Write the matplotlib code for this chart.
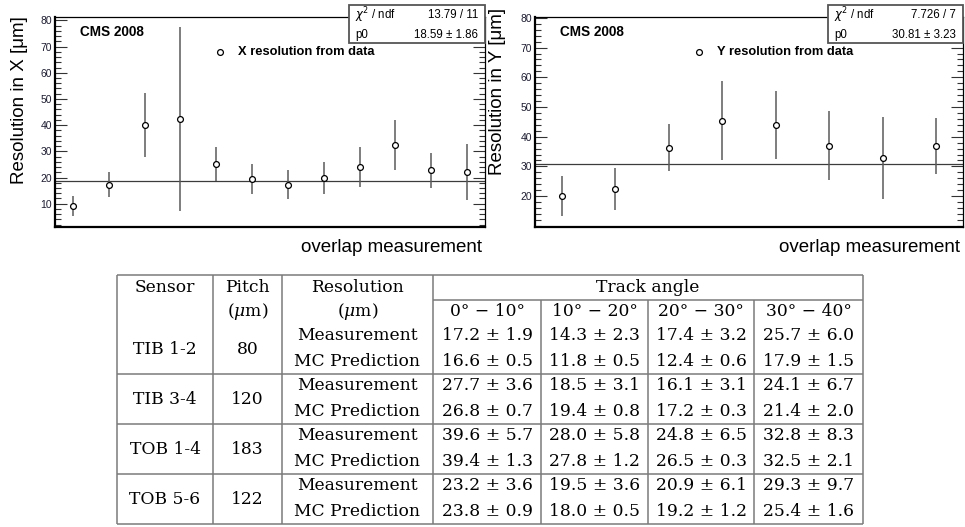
import matplotlib
matplotlib.use('Agg')
import matplotlib.pyplot as plt
import numpy as np
from matplotlib.patches import Rectangle
from matplotlib.ticker import MultipleLocator

plt.rcParams['font.family'] = ['Liberation Sans', 'DejaVu Sans']

# X resolution per overlap measurement (12 points)
x_res = [9.1, 17.3, 40.0, 42.3, 25.2, 19.3, 17.3, 19.8, 23.9, 32.4, 22.7, 22.1]
x_err = [3.8, 4.8, 12.1, 35.1, 6.5, 5.7, 5.6, 6.0, 7.7, 9.7, 6.6, 10.7]
x_fit = 18.59
x_stats = ['13.79 / 11', '18.59 \u00b1 1.86']

# Y resolution (8 points)
y_res = [20.1, 22.3, 36.3, 45.4, 44.0, 37.0, 32.7, 37.0]
y_err = [6.8, 7.1, 8.0, 13.2, 11.5, 11.7, 13.8, 9.4]
y_fit = 30.81
y_stats = ['7.726 / 7', '30.81 \u00b1 3.23']

# table
sensors = ['TIB 1-2', 'TIB 3-4', 'TOB 1-4', 'TOB 5-6']
pitch = ['80', '120', '183', '122']
angles = ['0\u00b0 \u2212 10\u00b0', '10\u00b0 \u2212 20\u00b0', '20\u00b0 \u2212 30\u00b0', '30\u00b0 \u2212 40\u00b0']
meas_val = [[17.2, 14.3, 17.4, 25.7], [27.7, 18.5, 16.1, 24.1], [39.6, 28.0, 24.8, 32.8], [23.2, 19.5, 20.9, 29.3]]
meas_err = [[1.9, 2.3, 3.2, 6.0], [3.6, 3.1, 3.1, 6.7], [5.7, 5.8, 6.5, 8.3], [3.6, 3.6, 6.1, 9.7]]
mc_val = [[16.6, 11.8, 12.4, 17.9], [26.8, 19.4, 17.2, 21.4], [39.4, 27.8, 26.5, 32.5], [23.8, 18.0, 19.2, 25.4]]
mc_err = [[0.5, 0.5, 0.6, 1.5], [0.7, 0.8, 0.3, 2.0], [1.3, 1.2, 0.3, 2.1], [0.9, 0.5, 1.2, 1.6]]

W, H = 965, 527
fig = plt.figure(figsize=(W / 100, H / 100), dpi=100)


def fx(px):
    return px / W


def fy(py):
    return 1 - py / H


def panel(x0, x1, vals, errs, fit, ylim, yticks, name, stats, box_x0):
    ax = fig.add_axes([fx(x0), fy(227), fx(x1) - fx(x0), fy(17) - fy(227)])
    xs = np.arange(len(vals)) + 0.5
    ax.axhline(fit, color='#3c3c3c', lw=0.9, zorder=1)
    ax.errorbar(xs, vals, yerr=errs, fmt='o', mfc='white', mec='black', mew=0.9, ms=4.2,
                ecolor='#5a5a5a', elinewidth=1.1, capsize=0, zorder=3)
    ax.set_xlim(0, len(vals))
    ax.set_ylim(*ylim)
    ax.set_xticks([])
    ax.set_yticks(yticks)
    ax.yaxis.set_minor_locator(MultipleLocator(2))
    ax.tick_params(axis='y', which='both', direction='in', left=True, right=True,
                   labelsize=7.5, labelcolor='#1c1c30', pad=2, color='#333333')
    ax.tick_params(axis='y', which='major', length=8.5, width=0.8)
    ax.tick_params(axis='y', which='minor', length=4.5, width=0.8)
    for s in ['left', 'bottom']:
        ax.spines[s].set_linewidth(1.6)
    for s in ['top', 'right']:
        ax.spines[s].set_linewidth(0.9)

    ax.text((80 - 55) / 430, 0.929, 'CMS 2008', transform=ax.transAxes, fontsize=9.8,
            fontweight='bold', va='center', ha='left')
    ax.plot([0.383], [0.833], 'o', mfc='white', mec='black', mew=0.9, ms=4.2,
            transform=ax.transAxes)
    ax.text(0.425, 0.833, name, transform=ax.transAxes, fontsize=9.3,
            fontweight='bold', va='center', ha='left')

    # stat box
    fig.add_artist(Rectangle((fx(box_x0), fy(43)), fx(x1) - fx(box_x0), fy(5) - fy(43),
                             transform=fig.transFigure, facecolor='white',
                             edgecolor='#555555', lw=1.3, zorder=10))
    fig.text(fx(box_x0 + 6), fy(15), '$\\chi^2$ / ndf', fontsize=8.3, va='center', zorder=11)
    fig.text(fx(box_x0 + 6), fy(35), 'p0', fontsize=8.3, va='center', zorder=11)
    fig.text(fx(x1 - 7), fy(15), stats[0], fontsize=8.3, va='center', ha='right', zorder=11)
    fig.text(fx(x1 - 7), fy(35), stats[1], fontsize=8.3, va='center', ha='right', zorder=11)

    fig.text(fx(x1 - 3), fy(248), 'overlap measurement', fontsize=13.5, ha='right', va='center')
    return ax


panel(55, 485, x_res, x_err, x_fit, (1.1, 81.3), list(range(10, 81, 10)),
      'X resolution from data', x_stats, 349)
panel(535, 963, y_res, y_err, y_fit, (9.6, 80.3), list(range(20, 81, 10)),
      'Y resolution from data', y_stats, 828)
fig.text(fx(20), fy(16), 'Resolution in X [\u03bcm]', rotation=90, fontsize=13.5, ha='center', va='top')
fig.text(fx(497), fy(8), 'Resolution in Y [\u03bcm]', rotation=90, fontsize=13.5, ha='center', va='top')

# table drawn on a full-figure overlay
tab = fig.add_axes([0, 0, 1, 1], zorder=-1)
tab.set_xlim(0, W)
tab.set_ylim(H, 0)
tab.axis('off')
lc = '#7a7a7a'
lw = 1.1
left, right, top, bottom = 117, 863, 275, 524
tab.hlines([top, 374, 424, 474, bottom], left, right, color=lc, lw=lw)
tab.hlines(300, 433, right, color=lc, lw=lw)
tab.vlines([left, 213, 282, 433, right], top, bottom, color=lc, lw=lw)
tab.vlines([541, 648, 754], 300, bottom, color=lc, lw=lw)

serif = dict(family='DejaVu Serif', fontsize=12.3, ha='center', va='center',
             math_fontfamily='dejavuserif')
col_x = [487.5, 594.5, 701, 808.5]
tab.text(165, 288, 'Sensor', **serif)
tab.text(247.5, 288, 'Pitch', **serif)
tab.text(357.5, 288, 'Resolution', **serif)
tab.text(648, 288, 'Track angle', **serif)
tab.text(247.5, 311, '($\\mu$m)', **serif)
tab.text(357.5, 311, '($\\mu$m)', **serif)
for cx, a in zip(col_x, angles):
    tab.text(cx, 311, a, **serif)

for b in range(len(sensors)):
    ym = 336 + 50 * b
    yc = ym + 25
    tab.text(165, (ym + yc) / 2 + 1, sensors[b], **serif)
    tab.text(247.5, (ym + yc) / 2 + 1, pitch[b], **serif)
    tab.text(357.5, ym, 'Measurement', **serif)
    tab.text(357.5, yc, 'MC Prediction', **serif)
    for j, cx in enumerate(col_x):
        tab.text(cx, ym, f'{meas_val[b][j]:.1f} \u00b1 {meas_err[b][j]:.1f}', **serif)
        tab.text(cx, yc, f'{mc_val[b][j]:.1f} \u00b1 {mc_err[b][j]:.1f}', **serif)

fig.savefig('out.png', dpi=100)
